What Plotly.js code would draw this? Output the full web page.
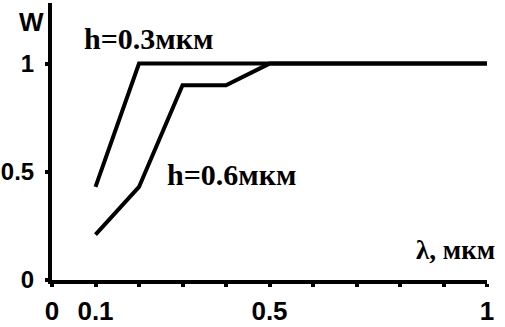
<!DOCTYPE html>
<html>
<head>
<meta charset="utf-8">
<script src="https://cdn.plot.ly/plotly-3.0.1.min.js"></script>
<style>html,body{margin:0;padding:0;background:#fff;}#chart{width:505px;height:327px;}</style>
</head>
<body>
<div id="chart"></div>
<script>
const lambda03 = [0.1, 0.2, 1.0];
const w03 = [0.43, 1.0, 1.0];
const lambda06 = [0.1, 0.2, 0.3, 0.4, 0.5, 1.0];
const w06 = [0.21, 0.43, 0.9, 0.9, 1.0, 1.0];
const xTickVals = [0, 0.1, 0.2, 0.3, 0.4, 0.5, 0.6, 0.7, 0.8, 0.9, 1];
const xTickText = ['0', '0.1', '', '', '', '0.5', '', '', '', '', '1'];
const yTickVals = [0, 0.5, 1];
const yTickText = ['0', '0.5', '1'];
const label03 = 'h=0.3мкм';
const label06 = 'h=0.6мкм';
const xLabel = 'λ, мкм';
const yLabel = 'W';

const tickFont = {family: '"Liberation Sans", Arial, sans-serif', size: 26, color: '#000', weight: 'bold'};
const yTickFont = {family: '"Liberation Sans", Arial, sans-serif', size: 24, color: '#000', weight: 'bold'};
const serifFont = {family: '"Liberation Serif", "Times New Roman", serif', size: 30, color: '#000', weight: 'bold'};

const traces = [
  {x: lambda03, y: w03, mode: 'lines', line: {color: '#000', width: 4}, name: label03},
  {x: lambda06, y: w06, mode: 'lines', line: {color: '#000', width: 4}, name: label06}
];

// paper coordinates helpers (plot area: x 52..487, y 3..280 px)
function px(xp) { return (xp - 52) / 435; }
function py(yp) { return (280 - yp) / 277; }

const layout = {
  width: 505, height: 327,
  margin: {l: 52, r: 18, t: 3, b: 47},
  paper_bgcolor: '#fff', plot_bgcolor: '#fff',
  showlegend: false,
  xaxis: {
    range: [0, 1], showgrid: false, zeroline: false,
    showline: true, linecolor: '#000', linewidth: 4,
    tickmode: 'array', tickvals: xTickVals, ticktext: xTickText,
    ticks: 'outside', ticklen: 3, tickwidth: 4, tickcolor: '#000',
    tickfont: tickFont, ticklabelstandoff: 2
  },
  yaxis: {
    range: [0, 1.28], showgrid: false, zeroline: false,
    showline: true, linecolor: '#000', linewidth: 4,
    tickmode: 'array', tickvals: yTickVals, ticktext: yTickText,
    ticks: 'outside', ticklen: 3, tickwidth: 4, tickcolor: '#000',
    tickfont: yTickFont, ticklabelstandoff: 6
  },
  annotations: [
    {text: label03, x: px(82), y: py(39), xref: 'paper', yref: 'paper', xanchor: 'left', yanchor: 'middle', showarrow: false, font: serifFont},
    {text: label06, x: px(165), y: py(174), xref: 'paper', yref: 'paper', xanchor: 'left', yanchor: 'middle', showarrow: false, font: serifFont},
    {text: xLabel, x: px(414), y: py(250), xref: 'paper', yref: 'paper', xanchor: 'left', yanchor: 'middle', showarrow: false, font: {family: serifFont.family, size: 27, color: '#000', weight: 'bold'}},
    {text: yLabel, x: px(17), y: py(22), xref: 'paper', yref: 'paper', xanchor: 'left', yanchor: 'middle', showarrow: false, font: tickFont}
  ]
};

Plotly.newPlot('chart', traces, layout, {displayModeBar: false, staticPlot: true});
</script>
</body>
</html>
